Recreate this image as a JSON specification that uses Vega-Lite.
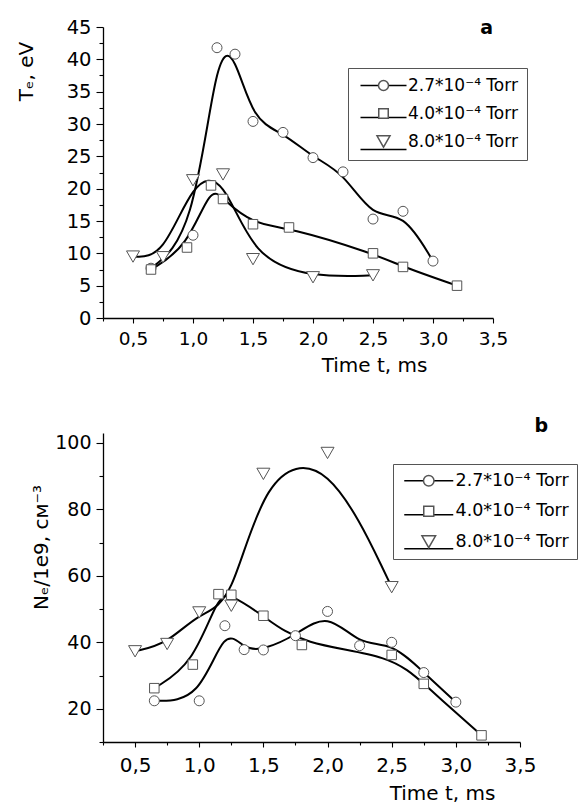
{
  "$schema": "https://vega.github.io/schema/vega-lite/v6.json",
  "autosize": {"type": "pad"},
  "padding": {"left": 16, "top": 17, "right": 0, "bottom": 2},
  "bounds": "flush",
  "spacing": 115,
  "resolve": {"scale": {"shape": "independent", "color": "independent"}, "legend": {"shape": "independent", "color": "independent"}},
  "config": {
    "font": "DejaVu Sans",
    "view": {"stroke": null},
    "axis": {
      "domainColor": "black", "domainWidth": 1.3, "tickColor": "black", "tickWidth": 1.1,
      "labelColor": "black", "titleColor": "black", "grid": false,
      "labelFont": "DejaVu Sans", "titleFont": "DejaVu Sans", "titleFontWeight": "normal",
      "labelFlush": false, "labelOverlap": false
    },
    "legend": {
      "labelFont": "DejaVu Sans", "labelColor": "black"
    }
  },
  "datasets": {
    "te": [
      {"s": "2.7*10⁻⁴ Torr", "t": 0.65, "v": 7.7},
      {"s": "2.7*10⁻⁴ Torr", "t": 1.0, "v": 12.8},
      {"s": "2.7*10⁻⁴ Torr", "t": 1.2, "v": 41.8},
      {"s": "2.7*10⁻⁴ Torr", "t": 1.35, "v": 40.8},
      {"s": "2.7*10⁻⁴ Torr", "t": 1.5, "v": 30.4},
      {"s": "2.7*10⁻⁴ Torr", "t": 1.75, "v": 28.7},
      {"s": "2.7*10⁻⁴ Torr", "t": 2.0, "v": 24.8},
      {"s": "2.7*10⁻⁴ Torr", "t": 2.25, "v": 22.6},
      {"s": "2.7*10⁻⁴ Torr", "t": 2.5, "v": 15.3},
      {"s": "2.7*10⁻⁴ Torr", "t": 2.75, "v": 16.5},
      {"s": "2.7*10⁻⁴ Torr", "t": 3.0, "v": 8.8},
      {"s": "4.0*10⁻⁴ Torr", "t": 0.65, "v": 7.5},
      {"s": "4.0*10⁻⁴ Torr", "t": 0.95, "v": 10.9},
      {"s": "4.0*10⁻⁴ Torr", "t": 1.15, "v": 20.5},
      {"s": "4.0*10⁻⁴ Torr", "t": 1.25, "v": 18.4},
      {"s": "4.0*10⁻⁴ Torr", "t": 1.5, "v": 14.5},
      {"s": "4.0*10⁻⁴ Torr", "t": 1.8, "v": 14.0},
      {"s": "4.0*10⁻⁴ Torr", "t": 2.5, "v": 10.0},
      {"s": "4.0*10⁻⁴ Torr", "t": 2.75, "v": 7.9},
      {"s": "4.0*10⁻⁴ Torr", "t": 3.2, "v": 5.0},
      {"s": "8.0*10⁻⁴ Torr", "t": 0.5, "v": 9.5},
      {"s": "8.0*10⁻⁴ Torr", "t": 0.75, "v": 9.4},
      {"s": "8.0*10⁻⁴ Torr", "t": 1.0, "v": 21.3},
      {"s": "8.0*10⁻⁴ Torr", "t": 1.25, "v": 22.2},
      {"s": "8.0*10⁻⁴ Torr", "t": 1.5, "v": 9.1},
      {"s": "8.0*10⁻⁴ Torr", "t": 2.0, "v": 6.3},
      {"s": "8.0*10⁻⁴ Torr", "t": 2.5, "v": 6.6}
    ],
    "ne": [
      {"s": "2.7*10⁻⁴ Torr", "t": 0.65, "v": 22.4},
      {"s": "2.7*10⁻⁴ Torr", "t": 1.0, "v": 22.4},
      {"s": "2.7*10⁻⁴ Torr", "t": 1.2, "v": 45.0},
      {"s": "2.7*10⁻⁴ Torr", "t": 1.35, "v": 37.8},
      {"s": "2.7*10⁻⁴ Torr", "t": 1.5, "v": 37.7},
      {"s": "2.7*10⁻⁴ Torr", "t": 1.75, "v": 42.0},
      {"s": "2.7*10⁻⁴ Torr", "t": 2.0, "v": 49.3},
      {"s": "2.7*10⁻⁴ Torr", "t": 2.25, "v": 39.0},
      {"s": "2.7*10⁻⁴ Torr", "t": 2.5, "v": 40.0},
      {"s": "2.7*10⁻⁴ Torr", "t": 2.75, "v": 30.9},
      {"s": "2.7*10⁻⁴ Torr", "t": 3.0, "v": 22.0},
      {"s": "4.0*10⁻⁴ Torr", "t": 0.65, "v": 26.2},
      {"s": "4.0*10⁻⁴ Torr", "t": 0.95, "v": 33.3},
      {"s": "4.0*10⁻⁴ Torr", "t": 1.15, "v": 54.5},
      {"s": "4.0*10⁻⁴ Torr", "t": 1.25, "v": 54.3},
      {"s": "4.0*10⁻⁴ Torr", "t": 1.5, "v": 48.0},
      {"s": "4.0*10⁻⁴ Torr", "t": 1.8, "v": 39.2},
      {"s": "4.0*10⁻⁴ Torr", "t": 2.5, "v": 36.2},
      {"s": "4.0*10⁻⁴ Torr", "t": 2.75, "v": 27.5},
      {"s": "4.0*10⁻⁴ Torr", "t": 3.2, "v": 12.0},
      {"s": "8.0*10⁻⁴ Torr", "t": 0.5, "v": 37.3},
      {"s": "8.0*10⁻⁴ Torr", "t": 0.75, "v": 39.5},
      {"s": "8.0*10⁻⁴ Torr", "t": 1.0, "v": 49.0},
      {"s": "8.0*10⁻⁴ Torr", "t": 1.25, "v": 51.0},
      {"s": "8.0*10⁻⁴ Torr", "t": 1.5, "v": 90.7},
      {"s": "8.0*10⁻⁴ Torr", "t": 2.0, "v": 97.0},
      {"s": "8.0*10⁻⁴ Torr", "t": 2.5, "v": 56.6}
    ]
  },
  "vconcat": [
    {
      "width": 390, "height": 291,
      "title": {"text": "a", "anchor": "end", "frame": "group", "fontSize": 19, "fontWeight": "bold", "font": "DejaVu Sans", "baseline": "alphabetic", "offset": -5, "dy": 31, "color": "black"},
      "data": {"name": "te"},
      "encoding": {
        "x": {"field": "t", "type": "quantitative", "scale": {"domain": [0.25, 3.5], "nice": false, "zero": false},
          "axis": {"title": "Time t, ms", "values": [0.25,0.5,0.75,1,1.25,1.5,1.75,2,2.25,2.5,2.75,3,3.25,3.5],
            "labelExpr": "datum.value % 0.5 == 0 ? replace(format(datum.value, '.1f'), '.', ',') : ''",
            "labelOverlap": false,
            "tickSize": {"condition": {"test": "datum.value % 0.5 == 0", "value": 5}, "value": 3},
            "labelFontSize": 18.5, "labelPadding": 6, "titleFontSize": 20,
            "titleX": 271, "titleY": 53, "titleBaseline": "alphabetic", "titleAlign": "center"}},
        "y": {"field": "v", "type": "quantitative", "scale": {"domain": [0, 45], "nice": false},
          "axis": {"title": "Tₑ, eV", "values": [0,2.5,5,7.5,10,12.5,15,17.5,20,22.5,25,27.5,30,32.5,35,37.5,40,42.5,45],
            "labelExpr": "datum.value % 5 == 0 ? format(datum.value, 'd') : ''",
            "labelOverlap": false,
            "tickSize": {"condition": {"test": "datum.value % 5 == 0", "value": 7}, "value": 4},
            "labelFontSize": 19.5, "labelPadding": 5, "titleFontSize": 20,
            "titleX": -71, "titleY": 44, "titleAngle": 270, "titleBaseline": "alphabetic", "titleAlign": "center"}}
      },
      "layer": [
        {
          "mark": {"type": "line", "interpolate": "basis", "strokeWidth": 2},
          "encoding": {
            "color": {"field": "s", "type": "nominal",
              "scale": {"domain": ["2.7*10⁻⁴ Torr", "4.0*10⁻⁴ Torr", "8.0*10⁻⁴ Torr"], "range": ["black", "black", "black"]},
              "legend": {"title": null, "orient": "none", "legendX": 245, "legendY": 25.5,
                "padding": 9, "rowPadding": -4, "symbolType": "stroke", "symbolSize": 2116, "symbolStrokeWidth": 1.5,
                "symbolOffset": 2.5, "labelOffset": 16, "labelFontSize": 17, "labelOpacity": 0, "labelExpr": "''"}}
          }
        },
        {
          "mark": {"type": "point", "filled": true, "fill": "white", "stroke": "#555", "strokeWidth": 1, "opacity": 1, "size": 100},
          "encoding": {
            "shape": {"field": "s", "type": "nominal",
              "scale": {"range": ["M-1,0A1,1,0,1,0,1,0A1,1,0,1,0,-1,0Z", "M-0.95,-0.95H0.95V0.95H-0.95Z", "M-1.3,-1.13H1.3L0,1.13Z"]},
              "legend": {"title": null, "orient": "none", "legendX": 245, "legendY": 41,
                "strokeColor": "#555", "padding": 9, "rowPadding": 10,
                "symbolSize": 100, "symbolOffset": 18, "labelOffset": 16, "labelFontSize": 17}}
          }
        }
      ]
    },
    {
      "width": 417, "height": 309,
      "title": {"text": "b", "anchor": "end", "frame": "group", "fontSize": 19, "fontWeight": "bold", "font": "DejaVu Sans", "baseline": "alphabetic", "offset": 1, "dx": 28, "dy": 19, "color": "black"},
      "data": {"name": "ne"},
      "encoding": {
        "x": {"field": "t", "type": "quantitative", "scale": {"domain": [0.25, 3.5], "nice": false, "zero": false},
          "axis": {"title": "Time t, ms", "values": [0.25,0.5,0.75,1,1.25,1.5,1.75,2,2.25,2.5,2.75,3,3.25,3.5],
            "labelExpr": "datum.value % 0.5 == 0 ? replace(format(datum.value, '.1f'), '.', ',') : ''",
            "labelOverlap": false,
            "tickSize": {"condition": {"test": "datum.value % 0.5 == 0", "value": 5}, "value": 3},
            "labelFontSize": 20, "labelPadding": 8, "titleFontSize": 20,
            "titleX": 339, "titleY": 57, "titleBaseline": "alphabetic", "titleAlign": "center"}},
        "y": {"field": "v", "type": "quantitative", "scale": {"domain": [10, 103], "nice": false, "zero": false},
          "axis": {"title": "Nₑ/1e9, см⁻³", "values": [10,20,30,40,50,60,70,80,90,100],
            "labelExpr": "datum.value % 20 == 0 ? format(datum.value, 'd') : ''",
            "labelOverlap": false,
            "tickSize": {"condition": {"test": "datum.value % 20 == 0", "value": 7}, "value": 4},
            "labelFontSize": 19, "labelPadding": 5, "titleFontSize": 20,
            "titleX": -56, "titleY": 114, "titleAngle": 270, "titleBaseline": "alphabetic", "titleAlign": "center"}}
      },
      "layer": [
        {
          "mark": {"type": "line", "interpolate": "basis", "strokeWidth": 2},
          "encoding": {
            "color": {"field": "s", "type": "nominal",
              "scale": {"domain": ["2.7*10⁻⁴ Torr", "4.0*10⁻⁴ Torr", "8.0*10⁻⁴ Torr"], "range": ["black", "black", "black"]},
              "legend": {"title": null, "orient": "none", "legendX": 290, "legendY": 14.25,
                "padding": 8, "rowPadding": -2.5, "symbolType": "stroke", "symbolSize": 2401, "symbolStrokeWidth": 1.5,
                "symbolOffset": 2.25, "labelOffset": 18, "labelFontSize": 17.5, "labelOpacity": 0, "labelExpr": "''"}}
          }
        },
        {
          "mark": {"type": "point", "filled": true, "fill": "white", "stroke": "#555", "strokeWidth": 1, "opacity": 1, "size": 100},
          "encoding": {
            "shape": {"field": "s", "type": "nominal",
              "scale": {"range": ["M-1,0A1,1,0,1,0,1,0A1,1,0,1,0,-1,0Z", "M-0.95,-0.95H0.95V0.95H-0.95Z", "M-1.3,-1.13H1.3L0,1.13Z"]},
              "legend": {"title": null, "orient": "none", "legendX": 290, "legendY": 31,
                "strokeColor": "#555", "padding": 8, "rowPadding": 11.5,
                "symbolSize": 110, "symbolOffset": 19, "labelOffset": 18, "labelFontSize": 17.5}}
          }
        }
      ]
    }
  ]
}
